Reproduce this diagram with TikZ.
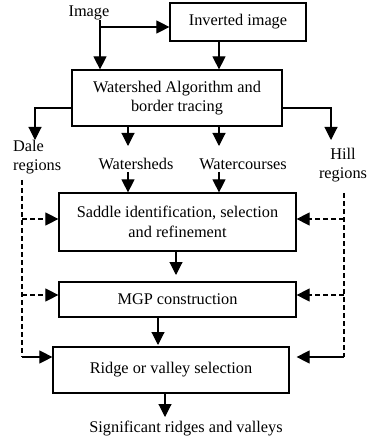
\documentclass[tikz,border=0pt]{standalone}
\usepackage{fontspec}
\setmainfont{Liberation Serif}
\usetikzlibrary{arrows.meta}
\newcommand\fsz{\fontsize{16.3}{19.5}\selectfont}
\begin{document}
\begin{tikzpicture}[x=1pt,y=-1pt,
  box/.style={draw, line width=1.2pt, inner sep=0pt, align=center, font=\fsz},
  lbl/.style={inner sep=0pt, align=center, font=\fsz},
  arr/.style={line width=1.1pt, -{Triangle[length=13pt,width=13pt]}},
  dsh/.style={line width=1.1pt, dash pattern=on 5pt off 3pt},
]
\useasboundingbox (0,0) rectangle (374,443);

% nodes
\node[lbl] (img) at (89,13) {Image};
\node[box, minimum width=136pt, minimum height=38pt] (inv) at (238,22) {Inverted image};
\node[box, minimum width=210pt, minimum height=56pt] (ws) at (177,98) {Watershed Algorithm and\\border tracing};
\node[lbl, align=left, anchor=west] (dale) at (13,157) {Dale\\regions};
\node[lbl] (hill) at (343,165) {Hill\\regions};
\node[lbl] (wsh) at (136,164) {Watersheds};
\node[lbl] (wc) at (243,164) {Watercourses};
\node[box, minimum width=237pt, minimum height=58pt] (sad) at (177.5,222) {Saddle identification, selection\\and refinement};
\node[box, minimum width=237pt, minimum height=35pt] (mgp) at (177.5,299.5) {MGP construction};
\node[box, minimum width=236pt, minimum height=46pt] (rid) at (171,370) {Ridge or valley selection};
\node[lbl] (out) at (186,429) {Significant ridges and valleys};

% coordinates
\coordinate (j) at (100,27);
\coordinate (c219) at (219,0);
\coordinate (dl) at (35,108);
\coordinate (dlend) at (35,140);
\coordinate (hl) at (331,108);
\coordinate (hlend) at (331,140);
\coordinate (a1t) at (128,146);
\coordinate (a1b) at (128,172);
\coordinate (a2t) at (219,146);
\coordinate (a2b) at (219,172);
\coordinate (s1) at (176,251);
\coordinate (s1e) at (176,275);
\coordinate (m1) at (158,317);
\coordinate (m1e) at (158,345);
\coordinate (r1) at (165,393);
\coordinate (r1e) at (165,417);
\coordinate (L0) at (22,180);
\coordinate (L1) at (22,219);
\coordinate (L2) at (22,295);
\coordinate (L3) at (22,357);
\coordinate (R0) at (344,193);
\coordinate (R1) at (344,219);
\coordinate (R2) at (344,295);
\coordinate (R3) at (344,357);

% connectors
\draw[line width=1.1pt] (img.south -| j) -- (j);
\draw[arr] (j) -- (ws.north -| j);
\draw[arr] (j) -- (inv.west |- j);
\draw[arr] (inv.south -| c219) -- (ws.north -| c219);
\draw[arr] (ws.west |- dl) -- (dl) -- (dlend);
\draw[arr] (ws.east |- hl) -- (hl) -- (hlend);
\draw[arr] (ws.south -| a1t) -- (a1t);
\draw[arr] (a1b) -- (sad.north -| a1b);
\draw[arr] (ws.south -| a2t) -- (a2t);
\draw[arr] (a2b) -- (sad.north -| a2b);
\draw[arr] (sad.south -| s1) -- (s1e);
\draw[arr] (mgp.south -| m1) -- (m1e);
\draw[arr] (rid.south -| r1) -- (r1e);

\draw[dsh] (L0) -- (L3);
\draw[arr, dsh] (L1) -- (sad.west |- L1);
\draw[arr, dsh] (L2) -- (mgp.west |- L2);
\draw[arr] (L3) -- (rid.west |- L3);
\draw[dsh] (R0) -- (R3);
\draw[arr, dsh] (R1) -- (sad.east |- R1);
\draw[arr, dsh] (R2) -- (mgp.east |- R2);
\draw[arr] (R3) -- (mgp.east |- R3);
\end{tikzpicture}
\end{document}
